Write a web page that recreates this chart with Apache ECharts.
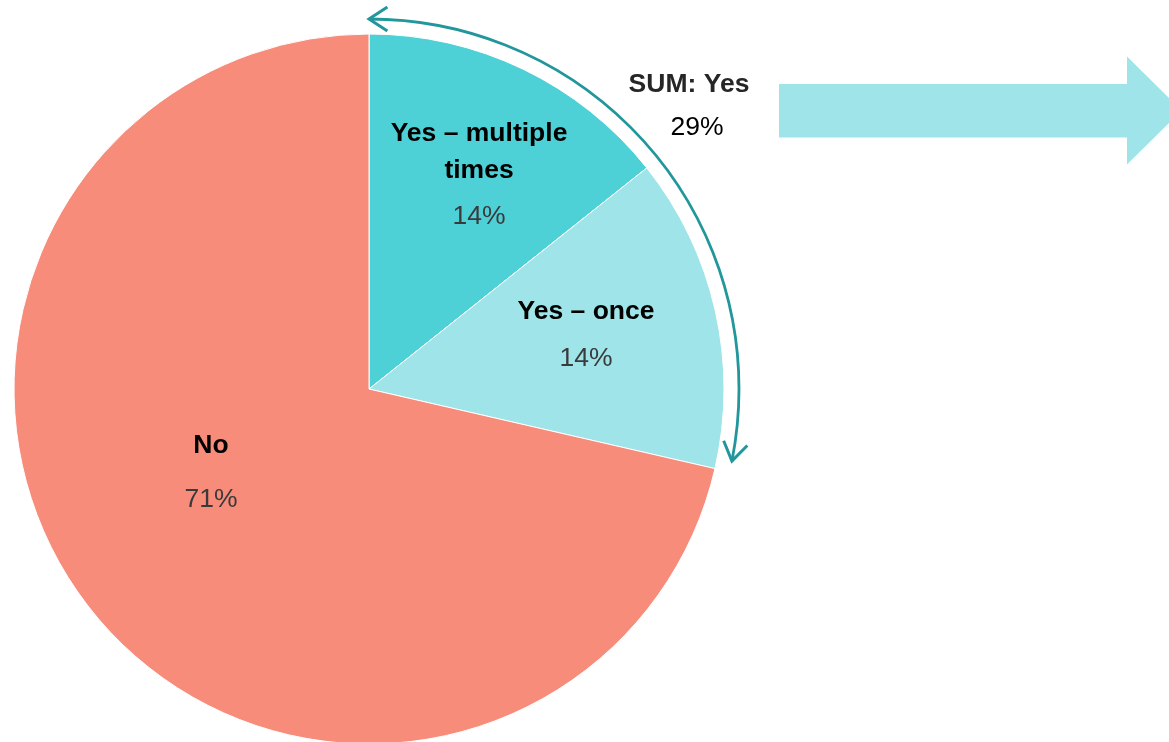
<!DOCTYPE html>
<html>
<head>
<meta charset="utf-8">
<script src="https://cdn.jsdelivr.net/npm/echarts@6/dist/echarts.min.js"></script>
<style>
  html, body { margin: 0; padding: 0; background: #ffffff; }
  #chart { width: 1169px; height: 742px; }
</style>
</head>
<body>
<div id="chart"></div>
<script>
// ---- data ----
const categories = ['Yes – multiple times', 'Yes – once', 'No'];
const nameLines = [['Yes – multiple', 'times'], ['Yes – once'], ['No']];
const values = [14.3, 14.3, 71.4];
const sumLabel = 'SUM: Yes';
const sumIndices = [0, 1];

// ---- layout / style ----
const colors = ['#4dd0d6', '#9ee4e8', '#f88c7a'];
const labelPos = [[479, 180], [586, 340], [211, 481]];
const FONT = "'Liberation Sans', Arial, sans-serif";
const FS = 26.5;
const CX = 369, CY = 389, R = 355;
const ARC_R = 370;
const arcColor = '#22979b';

const chart = echarts.init(document.getElementById('chart'), null, { renderer: 'canvas' });

const seriesData = categories.map((c, i) => ({
  name: c,
  value: values[i],
  itemStyle: { color: colors[i] }
}));

// curved arrow geometry around the "Yes" slices
const total = values.reduce((a, b) => a + b, 0);
const yesShare = sumIndices.reduce((a, i) => a + values[i], 0) / total;
const startA = -Math.PI / 2;
const endA = startA + yesShare * 2 * Math.PI - 0.03;
function pt(a) { return [CX + ARC_R * Math.cos(a), CY + ARC_R * Math.sin(a)]; }
function head(a, dir) {
  const tip = pt(a);
  const tx = -Math.sin(a) * dir, ty = Math.cos(a) * dir;
  const bx = -tx, by = -ty;
  const L = 22, ang = 0.58;
  const rot = (x, y, t) => [x * Math.cos(t) - y * Math.sin(t), x * Math.sin(t) + y * Math.cos(t)];
  const a1 = rot(bx, by, ang), a2 = rot(bx, by, -ang);
  return [[tip[0] + a1[0] * L, tip[1] + a1[1] * L], tip, [tip[0] + a2[0] * L, tip[1] + a2[1] * L]];
}

const option = {
  backgroundColor: '#ffffff',
  animation: false,
  series: [{
    type: 'pie',
    center: [CX, CY],
    radius: [0, R],
    startAngle: 90,
    clockwise: true,
    data: seriesData,
    itemStyle: { borderColor: '#ffffff', borderWidth: 1 },
    emphasis: { disabled: true },
    labelLine: { show: false },
    label: {
      show: true,
      position: 'inside',
      fontFamily: FONT,
      formatter: (p) => {
        const lines = nameLines[p.dataIndex].map(l => '{name|' + l + '}').join('\n');
        const pctStyle = p.dataIndex === 2 ? 'pctNo' : 'pct';
        return lines + '\n{' + pctStyle + '|' + Math.round(p.value) + '%}';
      },
      rich: {
        name: { fontFamily: FONT, fontSize: FS, fontWeight: 'bold', color: '#000000', lineHeight: 37, align: 'center' },
        pct: { fontFamily: FONT, fontSize: FS, color: '#3a3a3a', lineHeight: 56, align: 'center' },
        pctNo: { fontFamily: FONT, fontSize: FS, color: '#3a3a3a', lineHeight: 71, align: 'center' }
      }
    },
    labelLayout: (params) => {
      const p = labelPos[params.dataIndex];
      return { x: p[0], y: p[1], align: 'center', verticalAlign: 'middle' };
    }
  }],
  graphic: [
    {
      type: 'arc',
      shape: { cx: CX, cy: CY, r: ARC_R, startAngle: startA, endAngle: endA, clockwise: true },
      style: { stroke: arcColor, lineWidth: 2.8, fill: null }
    },
    {
      type: 'polyline',
      shape: { points: head(startA, -1) },
      style: { stroke: arcColor, lineWidth: 3, fill: null }
    },
    {
      type: 'polyline',
      shape: { points: head(endA, 1) },
      style: { stroke: arcColor, lineWidth: 3, fill: null }
    },
    {
      type: 'text',
      x: 689, y: 85,
      style: { text: sumLabel, font: 'bold ' + FS + 'px ' + FONT, fill: '#262626', align: 'center', verticalAlign: 'middle' }
    },
    {
      type: 'text',
      x: 697, y: 128,
      style: { text: Math.round(yesShare * 100) + '%', font: FS + 'px ' + FONT, fill: '#000000', align: 'center', verticalAlign: 'middle' }
    },
    {
      type: 'polygon',
      shape: { points: [[779, 84], [1127, 84], [1127, 56.5], [1181.5, 110.5], [1127, 164.5], [1127, 137.5], [779, 137.5]] },
      style: { fill: '#9ee4e8' }
    }
  ]
};

chart.setOption(option);
</script>
</body>
</html>
